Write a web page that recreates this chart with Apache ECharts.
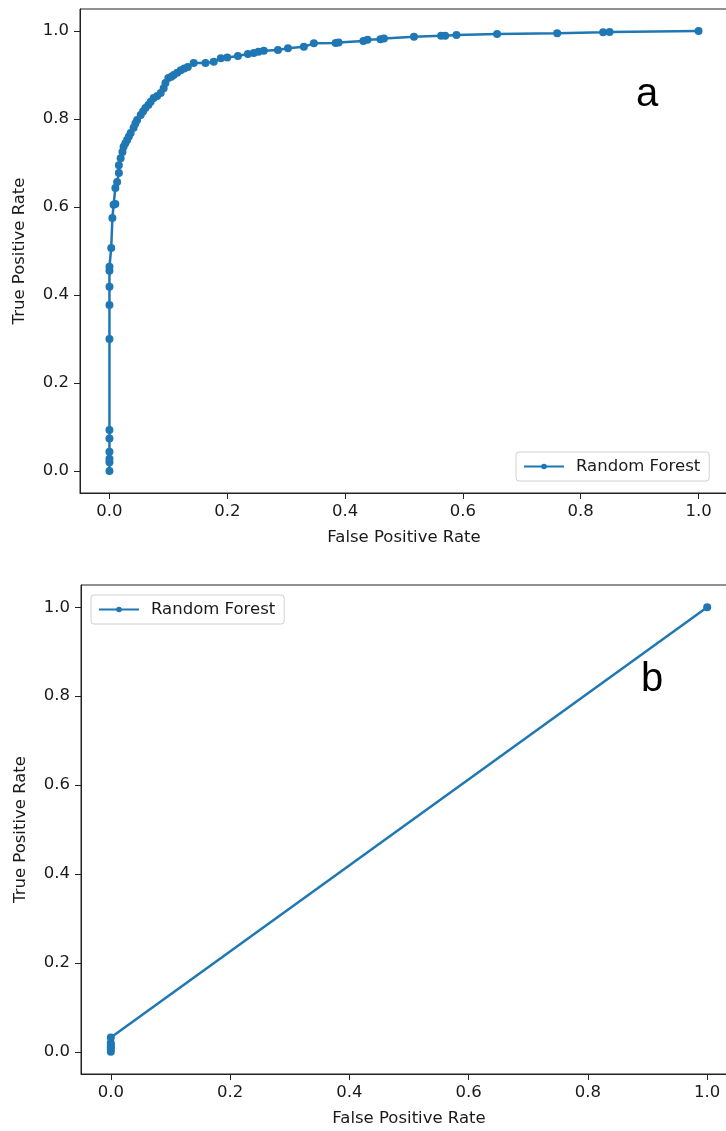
<!DOCTYPE html>
<html>
<head>
<meta charset="utf-8">
<script src="https://cdn.jsdelivr.net/npm/echarts@6/dist/echarts.min.js"></script>
<style>html,body{margin:0;padding:0;background:#fff;overflow:hidden;}#c{width:760px;height:1131px;}</style>
</head>
<body>
<div id="c"></div>
<script>
// Panel a: ROC curve points [FPR, TPR]
const rocA = [
  [0,0],[0,0.02],[0,0.028],[0,0.044],[0,0.074],[0,0.093],[0,0.30],[0,0.377],[0,0.419],[0,0.455],[0,0.464],
  [0.003,0.507],[0.005,0.575],[0.007,0.605],[0.010,0.607],[0.010,0.643],[0.013,0.657],[0.016,0.677],
  [0.016,0.695],[0.019,0.711],[0.022,0.725],[0.024,0.737],[0.027,0.745],[0.030,0.752],[0.033,0.760],
  [0.036,0.768],[0.041,0.780],[0.044,0.790],[0.047,0.798],[0.053,0.809],[0.057,0.817],[0.061,0.825],
  [0.066,0.832],[0.070,0.839],[0.075,0.848],[0.081,0.852],[0.087,0.859],[0.092,0.870],[0.095,0.882],
  [0.100,0.893],[0.105,0.896],[0.109,0.900],[0.115,0.905],[0.121,0.911],[0.127,0.915],[0.133,0.918],
  [0.143,0.927],[0.163,0.927],[0.177,0.930],[0.189,0.938],[0.200,0.940],[0.218,0.943],[0.235,0.948],
  [0.245,0.950],[0.253,0.953],[0.262,0.955],[0.286,0.957],[0.303,0.961],[0.330,0.964],[0.347,0.972],
  [0.384,0.973],[0.389,0.974],[0.431,0.977],[0.438,0.980],[0.460,0.981],[0.466,0.983],[0.517,0.987],
  [0.563,0.989],[0.570,0.989],[0.589,0.991],[0.658,0.993],[0.760,0.995],[0.838,0.997],[0.849,0.998],[1.0,1.0]
];
// Panel b: ROC curve points [FPR, TPR]
const rocB = [[0,0],[0,0.005],[0,0.01],[0,0.015],[0,0.02],[0,0.032],[1,1]];
const tickValues = [0,0.2,0.4,0.6,0.8,1.0];
const seriesName = 'Random Forest';
const panelLabels = ['a','b'];

const FONT = '"DejaVu Sans", sans-serif';
const TXT = '#1a1a1a';
const BLUE = '#1f77b4';

function xAx(gi){
  return {
    type:'value', gridIndex:gi, min:-0.05, max:1.05,
    name:'False Positive Rate', nameLocation:'middle', nameGap:36,
    nameTextStyle:{fontFamily:FONT,fontSize:16.5,color:TXT},
    axisLine:{show:true,onZero:false,lineStyle:{color:'#222',width:1}},
    axisTick:{show:true,length:6,lineStyle:{color:'#222'},customValues:tickValues},
    axisLabel:{fontFamily:FONT,fontSize:16.5,color:TXT,margin:10,customValues:tickValues,
      formatter:v=>Number(v).toFixed(1)},
    splitLine:{show:false}
  };
}
function yAx(gi){
  return {
    type:'value', gridIndex:gi, min:-0.05, max:1.05,
    name:'True Positive Rate', nameLocation:'middle', nameGap:52, nameRotate:90,
    nameTextStyle:{fontFamily:FONT,fontSize:16.5,color:TXT},
    axisLine:{show:true,onZero:false,lineStyle:{color:'#222',width:1}},
    axisTick:{show:true,length:6,lineStyle:{color:'#222'},customValues:tickValues},
    axisLabel:{fontFamily:FONT,fontSize:16.5,color:TXT,margin:11,customValues:tickValues,
      formatter:v=>Number(v).toFixed(1)},
    splitLine:{show:false}
  };
}
function ser(gi,data){
  return {
    type:'line', name:seriesName, xAxisIndex:gi, yAxisIndex:gi, data:data,
    symbol:'circle', symbolSize:8, showAllSymbol:true,
    lineStyle:{color:BLUE,width:2.5}, itemStyle:{color:BLUE},
    emphasis:{disabled:true}, animation:false, clip:false
  };
}
function leg(left,top){
  return {
    data:[seriesName], left:left, top:top, orient:'vertical',
    itemWidth:40, itemHeight:7,
    padding:[6,9,6,7], borderColor:'#d0d0d0', borderWidth:1, borderRadius:3,
    backgroundColor:'#fff',
    textStyle:{fontFamily:FONT,fontSize:16.5,color:TXT,padding:[0,0,0,7]},
    selectedMode:false
  };
}

const chart = echarts.init(document.getElementById('c'),null,{renderer:'canvas',width:760,height:1131});
chart.setOption({
  animation:false,
  backgroundColor:'#fff',
  grid:[
    {left:80,top:9,width:648,height:484,show:true,borderColor:'#222',borderWidth:1,containLabel:false},
    {left:81,top:585,width:656,height:489,show:true,borderColor:'#222',borderWidth:1,containLabel:false}
  ],
  xAxis:[xAx(0),xAx(1)],
  yAxis:[yAx(0),yAx(1)],
  legend:[leg(516,452),leg(91,595)],
  series:[ser(0,rocA),ser(1,rocB)],
  graphic:[
    {type:'text',x:647,y:95,style:{text:panelLabels[0],font:'40px "Liberation Sans", Arial, sans-serif',fill:'#000',textAlign:'center',textVerticalAlign:'middle'}},
    {type:'text',x:652,y:680,style:{text:panelLabels[1],font:'40px "Liberation Sans", Arial, sans-serif',fill:'#000',textAlign:'center',textVerticalAlign:'middle'}}
  ]
});
</script>
</body>
</html>
